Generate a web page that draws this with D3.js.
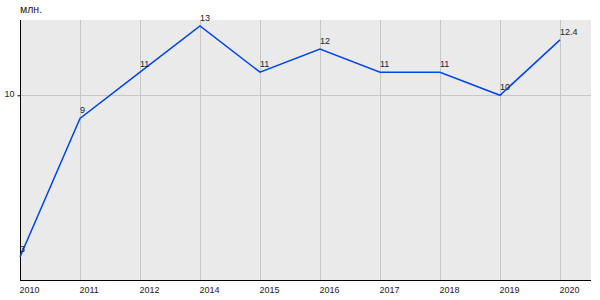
<!DOCTYPE html>
<html>
<head>
<meta charset="utf-8">
<script src="https://cdn.jsdelivr.net/npm/d3@7"></script>
<style>
  body { margin: 0; background: #fff; }
  text { font-family: Arial, "Liberation Sans", sans-serif; font-size: 9px; fill: #222; }
</style>
</head>
<body>
<svg id="chart" width="600" height="300"></svg>
<script>
var years = ['2010', '2011', '2012', '2014', '2015', '2016', '2017', '2018', '2019', '2020'];
var values = [3, 9, 11, 13, 11, 12, 11, 11, 10, 12.4];
var valueLabels = ['3', '9', '11', '13', '11', '12', '11', '11', '10', '12.4'];
var yTicks = [10];
var unitLabel = 'млн.';

var WIDTH = 600,
    HEIGHT = 300,
    MARGINS = { top: 20, right: 9, bottom: 20, left: 20 };

var svg = d3.select('#chart');

// categories are evenly spaced, first one sits on the y axis
var xRange = d3.scalePoint()
    .domain(years)
    .range([MARGINS.left, MARGINS.left + 60 * (years.length - 1)]);
var yRange = d3.scaleLinear()
    .domain([2, 13.26])
    .range([HEIGHT - MARGINS.bottom, MARGINS.top]);

svg.append('rect')
    .attr('x', MARGINS.left)
    .attr('y', MARGINS.top)
    .attr('width', WIDTH - MARGINS.left - MARGINS.right)
    .attr('height', HEIGHT - MARGINS.top - MARGINS.bottom)
    .attr('fill', '#eaeaea');

// grid
svg.append('g').selectAll('line')
    .data(years.slice(1))
    .join('line')
    .attr('x1', function(d) { return xRange(d) + 0.5; })
    .attr('x2', function(d) { return xRange(d) + 0.5; })
    .attr('y1', MARGINS.top)
    .attr('y2', HEIGHT - MARGINS.bottom)
    .attr('stroke', '#c6c6c6');

svg.append('g').selectAll('line')
    .data(yTicks)
    .join('line')
    .attr('x1', MARGINS.left)
    .attr('x2', WIDTH - MARGINS.right)
    .attr('y1', function(d) { return Math.round(yRange(d)) + 0.5; })
    .attr('y2', function(d) { return Math.round(yRange(d)) + 0.5; })
    .attr('stroke', '#c6c6c6');

// axes
var xAxis = d3.axisBottom(xRange).tickSize(0).tickPadding(4);
var gx = svg.append('g')
    .attr('transform', 'translate(0,' + (HEIGHT - MARGINS.bottom + 0.5) + ')')
    .call(xAxis);
gx.select('.domain').attr('stroke', '#000').attr('d', 'M' + MARGINS.left + ',0H' + (WIDTH - MARGINS.right));
gx.selectAll('text').attr('text-anchor', 'start').attr('dy', '0.9em').attr('x', -1);

var yAxis = d3.axisLeft(yRange).tickValues(yTicks).tickSize(3).tickPadding(3);
var gy = svg.append('g')
    .attr('transform', 'translate(' + (MARGINS.left + 0.5) + ',0)')
    .call(yAxis);
gy.select('.domain').attr('stroke', '#000').attr('d', 'M0,' + MARGINS.top + 'V' + (HEIGHT - MARGINS.bottom));
gy.selectAll('.tick line').attr('stroke', '#000');
gy.selectAll('text').attr('dy', '0.1em');

svg.append('text')
    .attr('x', MARGINS.left)
    .attr('y', 13)
    .style('font-size', '10.5px')
    .text(unitLabel);

// line
var pts = years.map(function(y, i) { return { x: y, v: values[i], l: valueLabels[i] }; });
var lineFunc = d3.line()
    .x(function(d) { return xRange(d.x); })
    .y(function(d) { return yRange(d.v); });

svg.append('path')
    .attr('d', lineFunc(pts))
    .attr('stroke', '#0046e6')
    .attr('stroke-width', 1.5)
    .attr('fill', 'none');

svg.append('g').selectAll('text')
    .data(pts)
    .join('text')
    .attr('x', function(d) { return xRange(d.x); })
    .attr('y', function(d) { return yRange(d.v) - 5; })
    .text(function(d) { return d.l; });
</script>
</body>
</html>
